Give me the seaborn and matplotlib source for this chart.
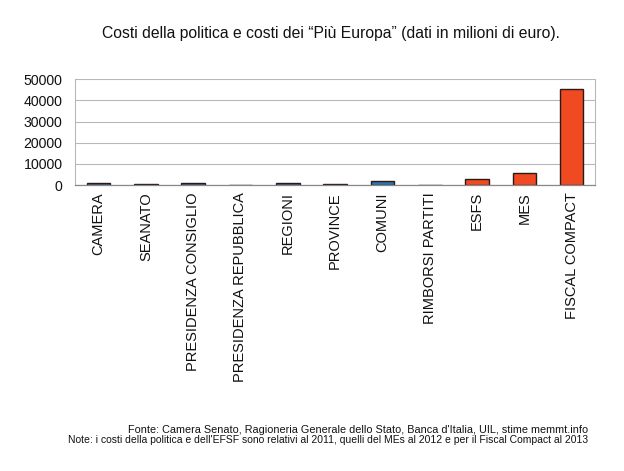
import matplotlib
matplotlib.use("Agg")
import matplotlib.pyplot as plt
import seaborn as sns
import pandas as pd

categories = ["CAMERA", "SEANATO", "PRESIDENZA CONSIGLIO", "PRESIDENZA REPUBBLICA",
              "REGIONI", "PROVINCE", "COMUNI", "RIMBORSI PARTITI", "ESFS", "MES",
              "FISCAL COMPACT"]
values = [1100, 540, 1000, 230, 1000, 500, 2000, 180, 3100, 5600, 45500]
groups = ["politica"] * 8 + ["europa"] * 3
yticks = [0, 10000, 20000, 30000, 40000, 50000]

df = pd.DataFrame({"cat": categories, "val": values, "grp": groups})

sns.set_style("white")
plt.rcParams["font.family"] = ["Liberation Sans", "DejaVu Sans"]

fig = plt.figure(figsize=(6.24, 4.71), dpi=100)
ax = fig.add_axes([0.120, 0.607, 0.834, 0.225])

sns.barplot(data=df, x="cat", y="val", hue="grp",
            palette={"politica": "#2f72b0", "europa": "#f04a23"},
            saturation=1, dodge=False, width=0.5,
            edgecolor="#2a1a16", linewidth=1.0,
            legend=False, ax=ax)

ax.set_ylim(0, 50000)
ax.set_xlim(-0.5, len(categories) - 0.5)
ax.set_yticks(yticks)
ax.set_yticklabels([str(t) for t in yticks], fontsize=10.2, color="#111111")
ax.yaxis.grid(True, color="#b8b8b8", linewidth=0.8)
ax.set_axisbelow(True)
ax.set_xlabel("")
ax.set_ylabel("")
ax.set_xticks(range(len(categories)))
ax.set_xticklabels(categories, rotation=90, fontsize=10.5, va="top", color="#111111")
ax.tick_params(axis="x", length=0, pad=5)
# minor ticks between categories
ax.set_xticks([i - 0.5 for i in range(len(categories) + 1)], minor=True)
ax.tick_params(axis="x", which="minor", length=6, color="#999999", width=0.8)
ax.tick_params(axis="y", length=6, color="#b8b8b8", width=0.8, pad=3)
for s in ["left", "right", "top"]:
    ax.spines[s].set_color("#b8b8b8")
    ax.spines[s].set_linewidth(0.8)
ax.spines["top"].set_visible(False)
ax.spines["bottom"].set_color("#888888")
ax.spines["bottom"].set_linewidth(0.9)

fig.text(0.53, 0.928, "Costi della politica e costi dei \u201cPi\u00f9 Europa\u201d (dati in milioni di euro).",
         ha="center", va="center", fontsize=11.3, color="#111111")
fig.text(0.942, 0.087, "Fonte: Camera Senato, Ragioneria Generale dello Stato, Banca d'Italia, UIL, stime memmt.info",
         ha="right", va="center", fontsize=7.8, color="#111111")
fig.text(0.942, 0.065, "Note: i costi della politica e dell'EFSF sono relativi al 2011, quelli del MEs al 2012 e per il Fiscal Compact al 2013",
         ha="right", va="center", fontsize=7.5, color="#111111")

fig.savefig("out.png", dpi=100)
